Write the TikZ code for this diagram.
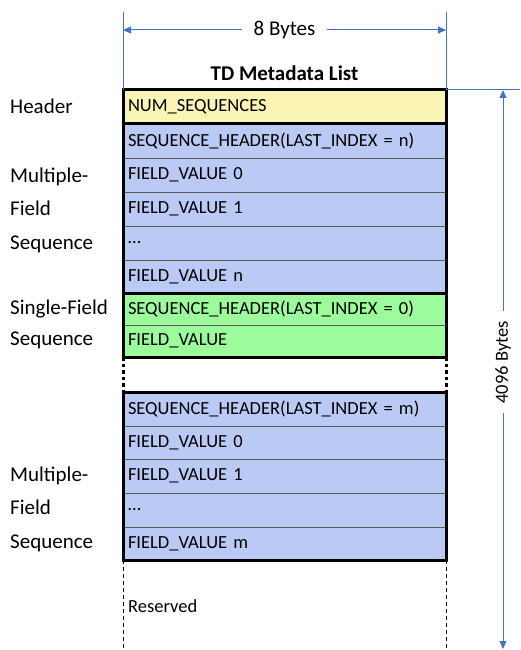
\documentclass[tikz,border=0pt]{standalone}
\usepackage{fontspec}
\setmainfont{Carlito}
\usetikzlibrary{arrows.meta}
\definecolor{yellowc}{HTML}{FAF4B5}
\definecolor{bluec}{HTML}{BACAF5}
\definecolor{greenc}{HTML}{9CFC9C}
\definecolor{dimc}{HTML}{4472C4}
\definecolor{sepc}{HTML}{5A5A5A}
\tikzset{
  rowbox/.style={rectangle, draw=sepc, line width=0.9pt, text width=313pt, inner xsep=5pt, inner ysep=0pt, outer sep=0pt, anchor=north west, align=left, font=\fontsize{18.5}{22}\selectfont},
  groupline/.style={draw=black, line width=3pt},
  dimline/.style={draw=dimc, line width=1pt},
  dimtip/.style={dimline, {Triangle[length=8pt,width=7pt]}-{Triangle[length=8pt,width=7pt]}},
  sidelabel/.style={anchor=west, align=left, inner sep=0pt, font=\fontsize{21}{33.5}\selectfont},
  dotline/.style={draw=black, line width=3pt, dash pattern=on 3.5pt off 3pt},
  dashline/.style={draw=black, line width=0.9pt, dash pattern=on 4pt off 3pt}
}
\begin{document}
\begin{tikzpicture}[x=1pt,y=-1pt]
\useasboundingbox (0,0) rectangle (520,650);
% rows (upper)
\node[rowbox, fill=yellowc, minimum height=34pt] (h) at (123,90) {NUM\_SEQUENCES};
\node[rowbox, fill=bluec, minimum height=34pt] (a1) at (123,124) {SEQUENCE\_HEADER(LAST\_INDEX = n)};
\node[rowbox, fill=bluec, minimum height=34pt] (a2) at (123,158) {FIELD\_VALUE 0};
\node[rowbox, fill=bluec, minimum height=34pt] (a3) at (123,192) {FIELD\_VALUE 1};
\node[rowbox, fill=bluec, minimum height=34pt] (a4) at (123,226) {…};
\node[rowbox, fill=bluec, minimum height=33pt] (a5) at (123,260) {FIELD\_VALUE n};
\node[rowbox, fill=greenc, minimum height=32pt] (g1) at (123,293) {SEQUENCE\_HEADER(LAST\_INDEX = 0)};
\node[rowbox, fill=greenc, minimum height=32pt] (g2) at (123,325) {FIELD\_VALUE};
% rows (lower)
\node[rowbox, fill=bluec, minimum height=34pt] (b1) at (123,392) {SEQUENCE\_HEADER(LAST\_INDEX = m)};
\node[rowbox, fill=bluec, minimum height=33pt] (b2) at (123,426) {FIELD\_VALUE 0};
\node[rowbox, fill=bluec, minimum height=34pt] (b3) at (123,459) {FIELD\_VALUE 1};
\node[rowbox, fill=bluec, minimum height=34pt] (b4) at (123,493) {…};
\node[rowbox, fill=bluec, minimum height=33pt] (b5) at (123,527) {FIELD\_VALUE m};
% group outlines
\draw[groupline] (h.north west) rectangle (h.south east);
\draw[groupline] (a1.north west) rectangle (a5.south east);
\draw[groupline] (g1.north west) rectangle (g2.south east);
\draw[groupline] (b1.north west) rectangle (b5.south east);
% gap dotted lines
\draw[dotline] (g2.south west) -- (b1.north west);
\draw[dotline] (g2.south east) -- (b1.north east);
% reserved
\coordinate (rl) at (123,650);
\coordinate (rr) at (446,650);
\draw[dashline] (b5.south west) -- (rl);
\draw[dashline] (b5.south east) -- (rr);
\node[anchor=west, inner sep=0pt, font=\fontsize{18.5}{22}\selectfont] (res) at (128,606) {Reserved};
% title
\node[font=\bfseries\fontsize{21}{25}\selectfont] (title) at (284.5,73) {TD Metadata List};
% top dimension
\coordinate (tl) at (123,12);
\coordinate (tr) at (446,12);
\draw[dimline] (tl) -- (h.north west);
\draw[dimline] (tr) -- (h.north east);
\coordinate (al) at (123,30);
\coordinate (ar) at (446,30);
\draw[dimtip] (al) -- node[fill=white, inner xsep=12pt, inner ysep=1pt, font=\fontsize{21}{25}\selectfont] (w) {8 Bytes} (ar);
% right dimension
\coordinate (re) at (520,90);
\draw[dimline] (h.north east) -- (re);
\coordinate (vt) at (503,90);
\coordinate (vb) at (503,649);
\draw[dimtip] (vt) -- node[pos=0.487, rotate=90, fill=white, inner xsep=10pt, inner ysep=1pt, font=\fontsize{18.5}{22}\selectfont] (len) {4096 Bytes} (vb);
% side labels
\node[sidelabel] (lh) at (10,106) {Header};
\node[sidelabel] (lm1) at (10,210) {Multiple-\\Field\\Sequence};
\node[sidelabel, font=\fontsize{21}{31.5}\selectfont] (ls) at (10,324.5) {Single-Field\\Sequence};
\node[sidelabel] (lm2) at (10,509) {Multiple-\\Field\\Sequence};
\end{tikzpicture}
\end{document}
